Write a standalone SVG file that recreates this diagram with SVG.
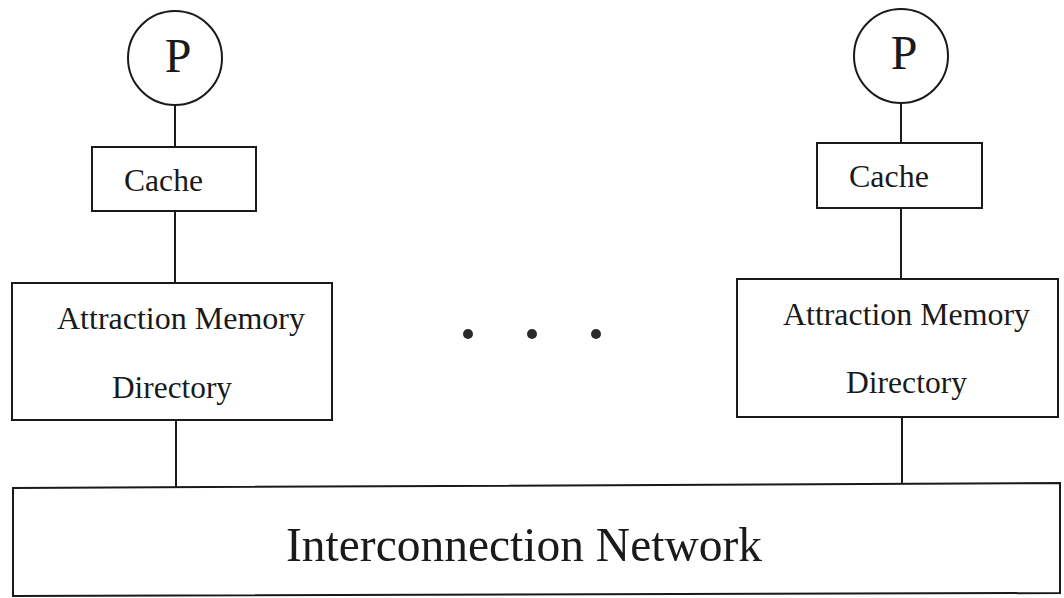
<svg xmlns="http://www.w3.org/2000/svg" width="1064" height="598" viewBox="0 0 1064 598">
<style>
.box{fill:none;stroke:#1a1a1a;stroke-width:2}
.ln{stroke:#1a1a1a;stroke-width:2;fill:none}
.t{font-family:"Liberation Serif","Times New Roman",serif;fill:#1a1a1a}
.dot{fill:#2a2a2a}
</style>
<rect width="1064" height="598" fill="#ffffff"/>
<g id="connectors">
<line class="ln" x1="175" y1="105" x2="175" y2="147"/>
<line class="ln" x1="175" y1="211" x2="175" y2="283"/>
<line class="ln" x1="176" y1="420" x2="176" y2="488"/>
<line class="ln" x1="901" y1="102" x2="901" y2="143"/>
<line class="ln" x1="901" y1="208" x2="901" y2="279"/>
<line class="ln" x1="902" y1="417" x2="902" y2="484"/>
</g>
<g id="p-left">
<circle class="box" cx="175" cy="58" r="47"/>
<text class="t" x="178" y="72" font-size="48" text-anchor="middle">P</text>
</g>
<g id="cache-left">
<rect class="box" x="92" y="147" width="164" height="64"/>
<text class="t" x="124" y="191" font-size="31" textLength="79" lengthAdjust="spacingAndGlyphs">Cache</text>
</g>
<g id="am-left">
<rect class="box" x="12" y="283" width="320" height="137"/>
<text class="t" x="57" y="329" font-size="31" textLength="248" lengthAdjust="spacingAndGlyphs">Attraction Memory</text>
<text class="t" x="112" y="398" font-size="31" textLength="120" lengthAdjust="spacingAndGlyphs">Directory</text>
</g>
<g id="p-right">
<circle class="box" cx="901" cy="56" r="47"/>
<text class="t" x="904" y="69" font-size="48" text-anchor="middle">P</text>
</g>
<g id="cache-right">
<rect class="box" x="817" y="143" width="165" height="65"/>
<text class="t" x="849" y="187" font-size="31" textLength="80" lengthAdjust="spacingAndGlyphs">Cache</text>
</g>
<g id="am-right">
<rect class="box" x="737" y="279" width="321" height="138"/>
<text class="t" x="783" y="325" font-size="31" textLength="247" lengthAdjust="spacingAndGlyphs">Attraction Memory</text>
<text class="t" x="846" y="393" font-size="31" textLength="121" lengthAdjust="spacingAndGlyphs">Directory</text>
</g>
<g id="ellipsis">
<circle class="dot" cx="468" cy="334" r="5"/>
<circle class="dot" cx="532" cy="334" r="5"/>
<circle class="dot" cx="596" cy="334" r="5"/>
</g>
<g id="network">
<path class="box" d="M13,488 L1060,483 L1060,593 L13,596 Z"/>
<text class="t" x="286" y="561" font-size="49" textLength="476" lengthAdjust="spacingAndGlyphs">Interconnection Network</text>
</g>
</svg>
